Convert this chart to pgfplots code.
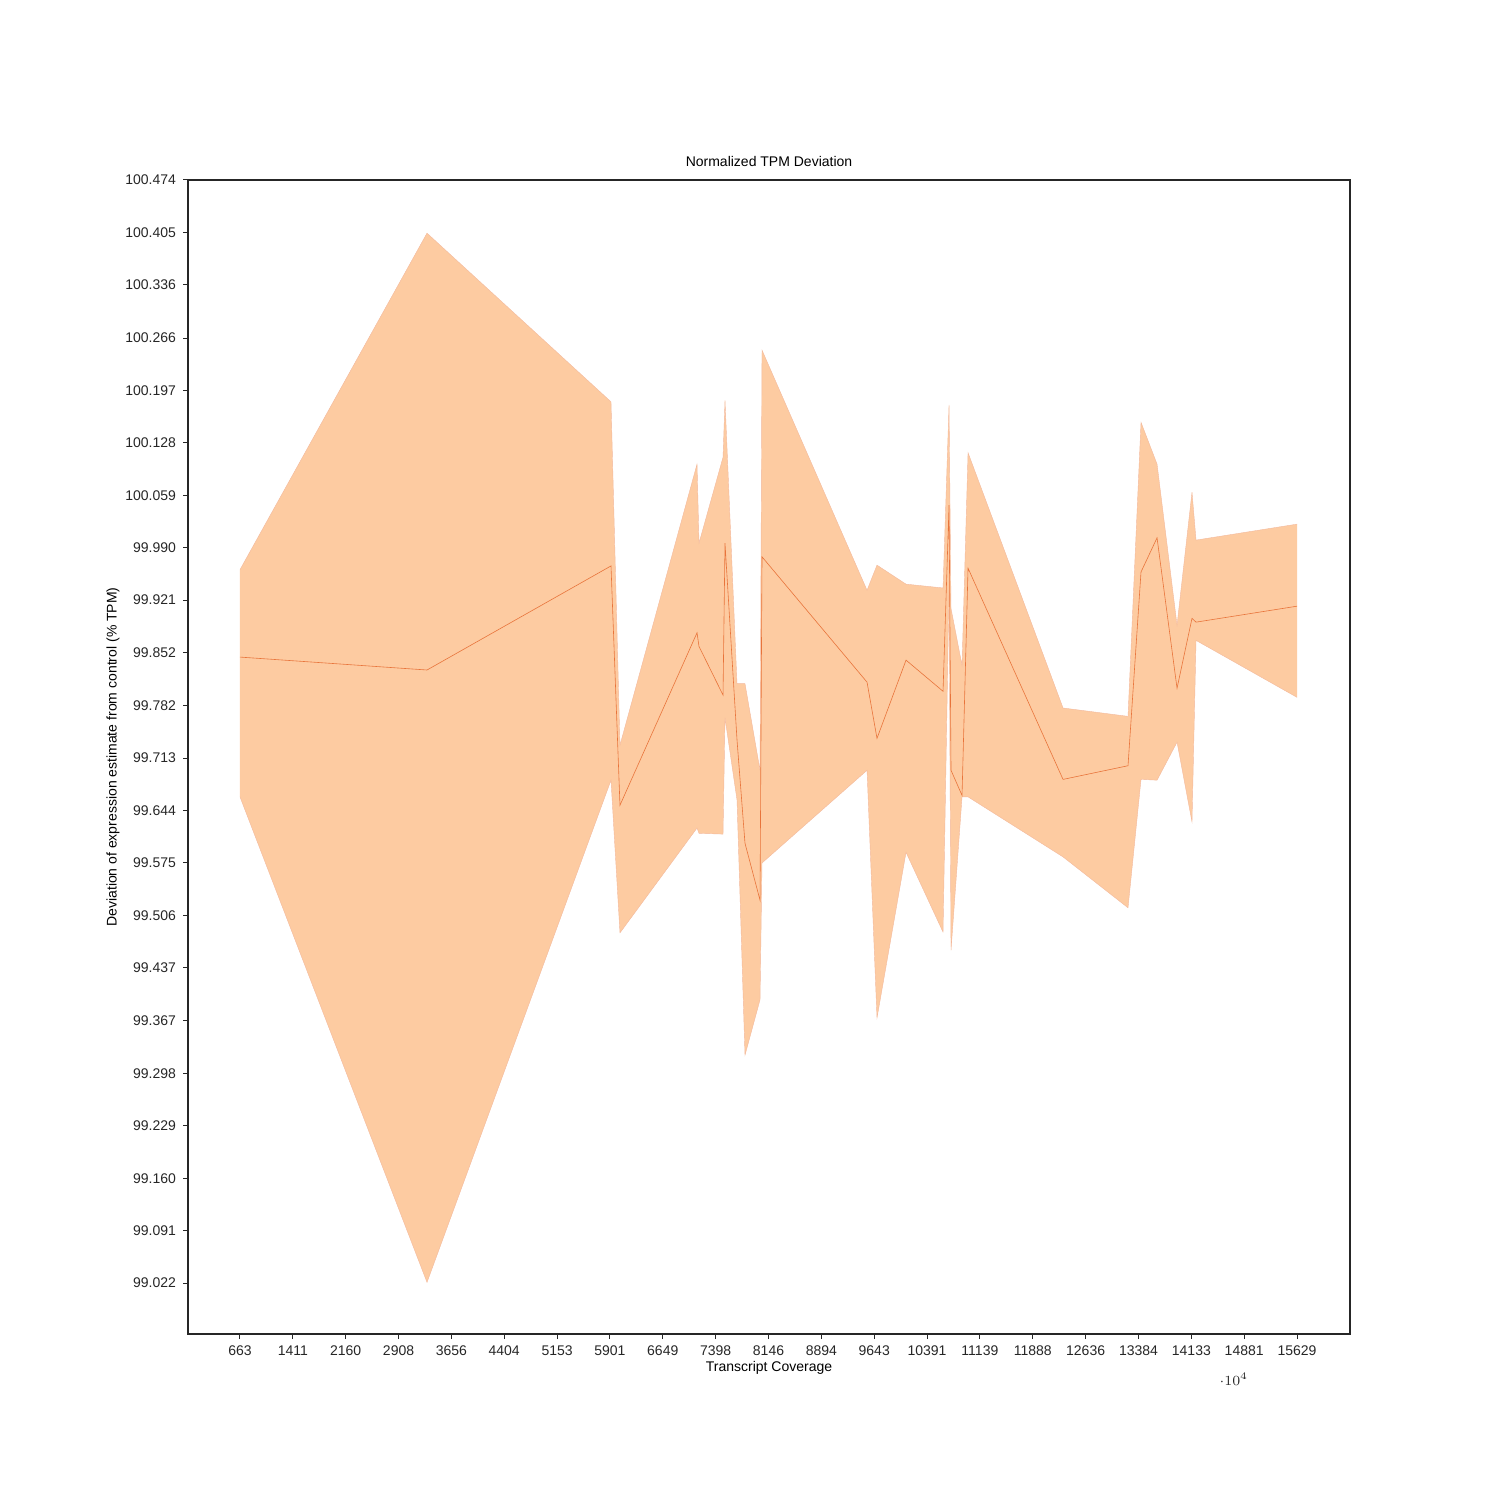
\documentclass[border=0pt]{standalone}
\usepackage{pgfplots}
\pgfplotsset{compat=1.18}
\usepackage{pgfplotstable}
\usepgfplotslibrary{fillbetween}
\usepackage{fontspec}
\setmainfont{Liberation Sans}
\definecolor{fillc}{HTML}{FDCBA1}
\definecolor{linec}{HTML}{E8743B}
\pgfplotstableread{
x mean upper lower
663 99.846 99.961 99.662
3311 99.829 100.404 99.023
5916 99.966 100.182 99.684
6043 99.651 99.730 99.483
7134 99.878 100.100 99.621
7162 99.860 99.996 99.614
7502 99.796 100.109 99.613
7530 99.996 100.184 99.766
7700 99.737 99.811 99.658
7813 99.601 99.811 99.322
8026 99.526 99.697 99.395
8054 99.978 100.250 99.575
9541 99.813 99.934 99.697
9682 99.739 99.967 99.371
10093 99.842 99.942 99.589
10617 99.801 99.937 99.484
10702 100.046 100.178 99.934
10730 99.697 99.910 99.460
10886 99.664 99.835 99.662
10971 99.963 100.115 99.662
12316 99.685 99.779 99.583
13236 99.703 99.768 99.516
13420 99.958 100.155 99.685
13647 100.003 100.100 99.684
13930 99.805 99.888 99.734
14142 99.897 100.063 99.629
14199 99.892 100.000 99.868
15629 99.913 100.021 99.793
}\data
\begin{document}
\begin{tikzpicture}
\path (-94pt,-83pt) rectangle (656pt,667pt);
\begin{axis}[
  at={(0,0)}, anchor=south west, scale only axis,
  width=581pt, height=577pt,
  xmin=-73, xmax=16379, ymin=98.955, ymax=100.474,
  font=\fontsize{7}{8}\selectfont,
  /pgf/number format/assume math mode=true,
  xtick={663,1411,2160,2908,3656,4404,5153,5901,6649,7398,8146,8894,9643,10391,11139,11888,12636,13384,14133,14881,15629},
  xticklabels={663,1411,2160,2908,3656,4404,5153,5901,6649,7398,8146,8894,9643,10391,11139,11888,12636,13384,14133,14881,15629},
  ytick={99.022,99.091,99.160,99.229,99.298,99.367,99.437,99.506,99.575,99.644,99.713,99.782,99.852,99.921,99.990,100.059,100.128,100.197,100.266,100.336,100.405,100.474},
  yticklabels={99.022,99.091,99.160,99.229,99.298,99.367,99.437,99.506,99.575,99.644,99.713,99.782,99.852,99.921,99.990,100.059,100.128,100.197,100.266,100.336,100.405,100.474},
  tick align=outside, xtick pos=bottom, ytick pos=left,
  major tick length=2.5pt,
  tick style={black!85, line width=0.5pt},
  axis line style={black!85, line width=0.6pt},
  title={Normalized TPM Deviation},
  title style={yshift=-3pt},
  xlabel={Transcript Coverage}, xlabel style={yshift=4pt},
  ylabel={Deviation of expression estimate from control (\% TPM)},
  ylabel style={yshift=-4pt},
  every tick label/.style={black!85},
]
\addplot[name path=u, draw=linec!50, line width=0.2pt] table[x=x,y=upper]{\data};
\addplot[name path=l, draw=linec!50, line width=0.2pt] table[x=x,y=lower]{\data};
\addplot[fillc] fill between[of=u and l];
\addplot[draw=linec, line width=0.3pt] table[x=x,y=mean]{\data};
\end{axis}
\end{tikzpicture}
\end{document}
